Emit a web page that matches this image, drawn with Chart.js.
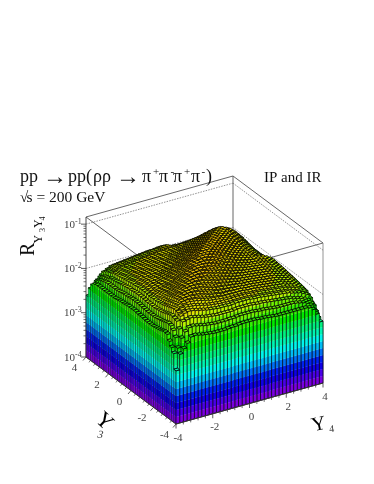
<!DOCTYPE html>
<html><head><meta charset="utf-8">
<style>html,body{margin:0;padding:0;background:#fff}canvas{display:block}</style>
<script src="https://cdn.jsdelivr.net/npm/chart.js@4/dist/chart.umd.js"></script>
</head><body><canvas id="c" width="374" height="484"></canvas>
<script>
const y3Bins=[-3.9,-3.7,-3.5,-3.3,-3.1,-2.9,-2.7,-2.5,-2.3,-2.1,-1.9,-1.7,-1.5,-1.3,-1.1,-0.9,-0.7,-0.5,-0.3,-0.1,0.1,0.3,0.5,0.7,0.9,1.1,1.3,1.5,1.7,1.9,2.1,2.3,2.5,2.7,2.9,3.1,3.3,3.5,3.7,3.9];
const y4Bins=y3Bins.slice();
const binHalf=0.1;
const rAxisMin=1e-4, rAxisMax=0.145;
// log10(R/1e-4)*100; rows: Y3 bins, columns: Y4 bins
const logHeightRows=[
[120,155,165,175,187,188,186,184,183,182,181,181,181,181,182,183,183,184,185,185,185,185,184,183,183,182,181,180,180,180,180,180,180,180,180,180,178,172,160,140],
[155,165,185,197,204,205,203,201,199,198,197,196,196,196,196,197,197,198,199,199,199,199,198,197,197,196,195,194,193,193,193,193,193,192,190,188,184,178,165,146],
[165,185,202,216,218,220,218,216,214,212,211,210,209,209,209,209,209,210,211,211,211,211,210,209,209,208,207,206,205,204,203,202,201,198,196,194,190,185,175,156],
[175,197,216,225,229,231,230,228,226,224,222,221,220,219,219,219,218,219,220,220,220,220,219,218,218,217,216,215,214,213,212,211,210,207,205,203,199,194,184,165],
[187,204,218,229,233,237,236,235,233,231,229,227,226,225,224,224,223,223,224,224,224,224,223,222,222,221,220,219,218,217,216,215,214,211,209,207,203,198,188,169],
[188,205,220,231,237,241,242,241,240,238,236,234,232,231,230,229,228,228,228,228,228,228,227,226,226,225,224,223,222,221,220,219,218,215,213,211,207,202,192,173],
[186,203,218,230,236,242,243,244,243,242,240,238,236,234,233,232,230,230,230,229,229,229,228,227,227,226,225,224,223,222,221,220,219,216,214,212,208,203,193,174],
[184,201,216,228,235,241,244,245,246,245,244,242,240,238,236,235,233,232,232,231,230,230,229,228,228,227,226,225,224,223,222,221,220,217,215,213,209,204,194,175],
[183,199,214,226,233,240,243,246,247,248,247,246,244,242,240,238,236,235,234,233,232,231,230,229,229,228,227,226,225,224,223,222,221,218,216,214,210,205,195,176],
[182,198,212,224,231,238,242,245,248,249,250,249,248,246,244,242,239,238,237,235,234,233,231,230,230,229,228,227,226,225,224,223,222,219,217,215,211,206,196,177],
[181,197,211,222,229,236,240,244,247,250,251,252,251,250,248,246,243,241,240,238,236,235,233,231,231,230,229,228,227,226,225,224,223,220,218,216,212,207,197,178],
[181,196,210,221,227,234,238,242,246,249,252,253,254,253,252,250,247,245,243,241,239,237,235,233,232,231,230,229,228,227,226,225,224,221,219,217,213,208,198,179],
[181,196,209,220,226,232,236,240,244,248,251,254,255,256,255,254,251,249,247,244,242,240,237,235,234,232,231,230,229,228,227,226,225,222,220,218,214,209,199,180],
[181,196,209,219,225,231,234,238,242,246,250,253,256,257,258,257,255,253,251,248,245,243,240,237,236,234,232,231,230,229,228,227,226,223,221,219,215,210,200,181],
[182,196,209,219,224,230,233,236,240,244,248,252,255,258,259,260,258,257,255,252,249,246,243,240,238,236,234,232,231,230,229,228,227,224,222,220,216,211,201,182],
[183,197,209,219,224,229,232,235,238,242,246,250,254,257,260,261,261,260,259,256,253,250,246,243,241,238,236,234,232,231,230,229,228,225,223,221,217,212,202,183],
[183,197,209,218,223,228,230,233,236,239,243,247,251,255,258,261,261,262,261,259,256,253,249,245,243,240,237,235,233,231,230,229,228,225,223,221,217,212,202,183],
[184,198,210,219,223,228,230,232,235,238,241,245,249,253,257,260,262,263,264,262,260,257,253,249,246,243,240,237,235,233,231,230,229,226,224,222,218,213,203,184],
[185,199,211,220,224,228,230,232,234,237,240,243,247,251,255,259,261,264,265,265,263,261,257,253,250,246,243,240,237,235,233,231,230,227,225,223,219,214,204,185],
[185,199,211,220,224,228,229,231,233,235,238,241,244,248,252,256,259,262,265,265,265,263,260,256,253,249,245,242,239,236,234,232,230,227,225,223,219,214,204,185],
[185,199,211,220,224,228,229,230,232,234,236,239,242,245,249,253,256,260,263,265,265,265,262,259,256,252,248,244,241,238,235,233,231,226,223,219,213,207,199,185],
[185,199,211,220,224,228,229,230,231,233,235,237,240,243,246,250,253,257,261,263,265,265,264,261,259,255,251,247,243,240,237,234,232,227,223,219,213,207,199,185],
[184,198,210,219,223,227,228,229,230,231,233,235,237,240,243,246,249,253,257,260,262,264,263,262,260,257,253,249,245,241,238,235,232,227,223,218,212,206,198,184],
[183,197,209,218,222,226,227,228,229,230,231,233,235,237,240,243,245,249,253,256,259,261,262,261,261,258,255,251,247,243,239,236,233,227,223,218,211,205,197,183],
[183,197,209,218,222,226,227,228,229,230,231,232,234,236,238,241,243,246,250,253,256,259,260,261,261,260,257,254,250,246,242,238,235,229,224,219,212,205,197,183],
[182,196,208,217,221,225,226,227,228,229,230,231,232,234,236,238,240,243,246,249,252,255,257,258,260,259,258,255,252,248,244,240,236,230,225,219,212,205,196,182],
[181,195,207,216,220,224,225,226,227,228,229,230,231,232,234,236,237,240,243,245,248,251,253,255,257,258,257,256,253,250,246,242,238,231,226,220,212,205,196,181],
[180,194,206,215,219,223,224,225,226,227,228,229,230,231,232,234,235,237,240,242,244,247,249,251,254,255,256,255,254,251,248,244,240,233,227,221,213,205,196,181],
[180,193,205,214,218,222,223,224,225,226,227,228,229,230,231,232,233,235,237,239,241,243,245,247,250,252,253,254,253,252,249,246,242,235,229,222,214,206,196,181],
[180,193,204,213,217,221,222,223,224,225,226,227,228,229,230,231,231,233,235,236,238,240,241,243,246,248,250,251,252,251,250,247,244,237,231,224,215,207,197,181],
[180,193,203,212,216,220,221,222,223,224,225,226,227,228,229,230,230,231,233,234,235,237,238,239,242,244,246,248,249,250,249,248,245,239,233,226,217,208,198,182],
[180,193,202,211,215,219,220,221,222,223,224,225,226,227,228,229,229,230,231,232,233,234,235,236,238,240,242,244,246,247,248,247,246,240,235,228,219,210,199,183],
[180,193,201,210,214,218,219,220,221,222,223,224,225,226,227,228,228,229,230,230,231,232,232,233,235,236,238,240,242,244,245,246,245,241,236,230,221,212,201,184],
[180,192,198,207,211,215,216,217,218,219,220,221,222,223,224,225,225,226,227,227,226,227,227,227,229,230,231,233,235,237,239,240,241,237,234,228,220,211,200,183],
[180,190,196,205,209,213,214,215,216,217,218,219,220,221,222,223,223,224,225,225,223,223,223,223,224,225,226,227,229,231,233,235,236,234,231,227,219,211,200,183],
[180,188,194,203,207,211,212,213,214,215,216,217,218,219,220,221,221,222,223,223,219,219,218,218,219,219,220,221,222,224,226,228,230,228,227,223,217,209,199,182],
[178,184,190,199,203,207,208,209,210,211,212,213,214,215,216,217,217,218,219,219,213,213,212,211,212,212,212,213,214,215,217,219,221,220,219,217,211,205,190,168],
[172,178,185,194,198,202,203,204,205,206,207,208,209,210,211,212,212,213,214,214,207,207,206,205,205,205,205,205,206,207,208,210,212,211,211,209,205,194,181,161],
[160,165,175,184,188,192,193,194,195,196,197,198,199,200,201,202,202,203,204,204,199,199,198,197,197,196,196,196,196,197,198,199,201,200,200,199,190,181,165,155],
[140,146,156,165,169,173,174,175,176,177,178,179,180,181,182,183,183,184,185,185,185,185,184,183,183,182,181,181,181,181,182,183,184,183,183,182,168,161,155,120]
];
const zMajorTicks=[1e-4,1e-3,1e-2,1e-1];
const zTickExponents=["-4","-3","-2","-1"];
const zMinorFactors=[2,3,4,5,6,7,8,9];
const yMajorTicks=[-4,-2,0,2,4];
const yMinorTicks=[-3.6,-3.2,-2.8,-2.4,-1.6,-1.2,-0.8,-0.4,0.4,0.8,1.2,1.6,2.4,2.8,3.2,3.6];
const palette=["#7a00e0","#4a00e8","#1000e4","#0020ee","#0070f4","#00bcf4","#00f4ec","#00f4b4","#00f080","#00ec48","#00e800","#30ee00","#70f000","#b8f000","#e0e000","#ecd800","#f0c800","#f0b000","#f09000","#f04000"];

const toR=h=>Math.pow(10,h/100-4);
const points=[];
y3Bins.forEach((y3,i)=>y4Bins.forEach((y4,j)=>points.push({x:y4,y:toR(logHeightRows[i][j]),y3:y3})));

// view of the 3D box: oblique shear from the two lower edges
const shearY3X=-90/147, shearY3Y=-67/147, shearY4Y=-41/147;
const font="'Liberation Serif','Times New Roman',serif";

function shade(hex,f){
  const n=parseInt(hex.slice(1),16);
  return `rgb(${Math.round((n>>16&255)*f)},${Math.round((n>>8&255)*f)},${Math.round((n&255)*f)})`;
}
const lego={id:'lego',afterDatasetsDraw(chart){
  const ctx=chart.ctx,sX=chart.scales.x,sV=chart.scales.y3,sZ=chart.scales.y,L=sX.left;
  const P=(y4,y3,r)=>{
    const a=sX.getPixelForValue(y4)-L,b=sV.getPixelForValue(y3)-L;
    return [L+a+b*shearY3X, sZ.getPixelForValue(r)+a*shearY4Y+b*shearY3Y];
  };
  const poly=(pts)=>{ctx.beginPath();pts.forEach((p,k)=>k?ctx.lineTo(p[0],p[1]):ctx.moveTo(p[0],p[1]));ctx.closePath();};
  const line=(a,b,col,w,dash)=>{ctx.save();ctx.strokeStyle=col;ctx.lineWidth=w;ctx.setLineDash(dash||[]);ctx.beginPath();ctx.moveTo(a[0],a[1]);ctx.lineTo(b[0],b[1]);ctx.stroke();ctx.restore();};
  const text=(t,x,y,size,col,align,rot,style)=>{ctx.save();ctx.translate(x,y);if(rot)ctx.rotate(rot);ctx.font=`${style||''} ${size}px ${font}`;ctx.fillStyle=col;ctx.textAlign=align||'left';ctx.textBaseline='alphabetic';ctx.fillText(t,0,0);ctx.restore();};
  const zMin=rAxisMin,zMax=rAxisMax;

  // back frame
  const box='#555';
  line(P(-4,4,zMax),P(4,4,zMax),box,0.9);
  line(P(4,4,zMax),P(4,-4,zMax),box,0.9);
  line(P(-4,4,zMax),P(-4,-4,zMax),box,0.9);
  line(P(4,-4,zMax),P(-4,-4,zMax),box,0.9);
  line(P(4,4,zMax),P(4,4,zMin),box,0.9);
  line(P(4,-4,zMax),P(4,-4,zMin),'#888',0.9);
  zMajorTicks.forEach(r=>{
    line(P(-4,4,r),P(4,4,r),'#777',0.8,[1.5,1.2]);
    line(P(4,4,r),P(4,-4,r),'#777',0.8,[1.5,1.2]);
  });

  // columns, back to front
  const step=Math.log10(zMax/zMin)*100/palette.length;
  const face=(p,q,lo,hi,f,w)=>{
    if(hi<=lo)return;
    for(let l=Math.floor(lo/step);l<=Math.floor(hi/step)&&l<palette.length;l++){
      const a=Math.max(lo,l*step),b=Math.min(hi,(l+1)*step);
      if(b<=a)continue;
      const ra=toR(a),rb=toR(b);
      poly([P(p[0],p[1],ra),P(q[0],q[1],ra),P(q[0],q[1],rb),P(p[0],p[1],rb)]);
      const c=shade(palette[l],f);
      ctx.fillStyle=c;ctx.strokeStyle=c;ctx.lineWidth=0.3;ctx.fill();ctx.stroke();
    }
    const ra=toR(lo),rb=toR(hi);
    poly([P(p[0],p[1],ra),P(q[0],q[1],ra),P(q[0],q[1],rb),P(p[0],p[1],rb)]);
    ctx.strokeStyle='#000';ctx.lineWidth=w;ctx.stroke();
  };
  for(let i=y3Bins.length-1;i>=0;i--)for(let j=y4Bins.length-1;j>=0;j--){
    const h=logHeightRows[i][j];
    const a=y4Bins[j]-binHalf,b=y4Bins[j]+binHalf,c=y3Bins[i]-binHalf,d=y3Bins[i]+binHalf;
    face([a,c],[a,d],j>0?logHeightRows[i][j-1]:0,h,0.93,j>0?0.55:0.35);
    face([a,c],[b,c],i>0?logHeightRows[i-1][j]:0,h,1,0.65);
    const r=toR(h);
    poly([P(a,c,r),P(b,c,r),P(b,d,r),P(a,d,r)]);
    ctx.fillStyle=palette[Math.min(palette.length-1,Math.floor(h/step))];
    ctx.strokeStyle='#000';ctx.lineWidth=0.8;ctx.fill();ctx.stroke();
  }

  // axes
  const ax='#333';
  line(P(-4,4,zMin),P(-4,4,zMax),ax,0.9);
  line(P(-4,4,zMin),P(-4,-4,zMin),ax,1);
  line(P(-4,-4,zMin),P(4,-4,zMin),ax,1);
  zMajorTicks.forEach((r,k)=>{
    const p=P(-4,4,r);
    line(p,[p[0]-5,p[1]],ax,0.8);
    text("10",p[0]-22,p[1]+3.5,11,'#444','left');
    text(zTickExponents[k],p[0]-11,p[1]-0.5,8,'#444','left');
    if(k<3)zMinorFactors.forEach(m=>{const q=P(-4,4,r*m);line(q,[q[0]-2.5,q[1]],ax,0.7);});
  });
  yMajorTicks.forEach(v=>{
    let p=P(-4,v,zMin);
    line(p,[p[0]-3,p[1]+3.5],ax,0.8);
    text(String(v),p[0]-11.5,p[1]+14,11,'#444','center');
    p=P(v,-4,zMin);
    line(p,[p[0],p[1]+4.5],ax,0.8);
    text(String(v),p[0]+2,p[1]+16.5,11,'#444','center');
  });
  yMinorTicks.forEach(v=>{
    let p=P(-4,v,zMin);line(p,[p[0]-1.5,p[1]+2],ax,0.7);
    p=P(v,-4,zMin);line(p,[p[0],p[1]+2.5],ax,0.7);
  });

  // titles
  const tb=182,tc='#111';
  [["pp",20],["pp(",68],["\u03c1\u03c1",93],["\u03c0",142],["\u03c0",159],["\u03c0",173],["\u03c0",191],[")",206]]
    .forEach(s=>text(s[0],s[1],tb,18,tc));
  [["\u2192",43],["\u2192",116]].forEach(s=>text(s[0],s[1],tb+1.5,24,tc));
  [["+",153],["-",170.5],["+",184],["-",201.5]].forEach(s=>text(s[0],s[1],tb-7,11,tc));
  text("\u221a",20,202,15,tc);
  text("s = 200 GeV",26.5,202,15.5,tc);
  text("IP and IR",264,182,15,tc);
  const rot=-Math.PI/2;
  text("R",34,256,20,tc,'left',rot);
  text("Y",42,243.5,12,tc,'left',rot);
  text("3",45,232,8,tc,'left',rot);
  text("Y",42,228,12,tc,'left',rot);
  text("4",45,220.5,8,tc,'left',rot);
  text("Y",100,426,22,'#000','center',0.75);
  text("3",100,438,11,'#333','center',0.15,'italic');
  text("Y",320,430,20,'#000','center',-0.22);
  text("4",332,432,10,'#333','center',-0.1);
}};

new Chart(document.getElementById('c'),{
  type:'scatter',
  data:{datasets:[{label:'R(Y3,Y4)',data:points,pointRadius:0,pointHoverRadius:0,showLine:false}]},
  options:{
    responsive:false,animation:false,events:[],
    layout:{padding:{left:176,right:51,top:284,bottom:60}},
    plugins:{legend:{display:false},tooltip:{enabled:false},title:{display:false}},
    scales:{
      x:{type:'linear',min:-4,max:4,display:false},
      y3:{type:'linear',axis:'x',min:-4,max:4,display:false},
      y:{type:'logarithmic',min:rAxisMin,max:rAxisMax,display:false}
    }
  },
  plugins:[lego]
});
</script></body></html>
